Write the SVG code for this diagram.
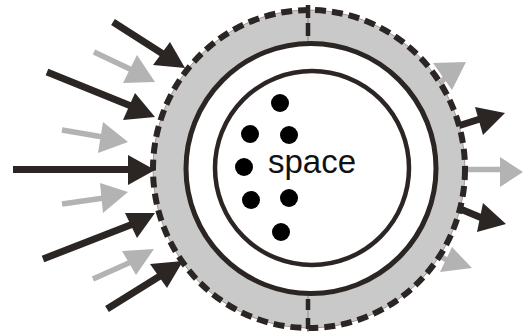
<svg xmlns="http://www.w3.org/2000/svg" width="523" height="332" viewBox="0 0 523 332">
  <style>
    .dk { fill: #2b2523; }
    .gy { fill: #b3b3b3; }
    .dks { stroke: #2b2523; stroke-width: 7; fill: none; }
    .gys { stroke: #b3b3b3; stroke-width: 5.5; fill: none; }
    .ring { stroke: #2b2523; }
    .dot { fill: #000; }
    .label { font-family: "Liberation Sans", Arial, sans-serif; font-size: 33px; fill: #111; }
  </style>
  <rect width="523" height="332" fill="#fff"/>

  <g id="outgoing-arrows">
    <g id="out-gray-1"><line class="gys" x1="430" y1="95" x2="445" y2="78"/><polygon class="gy" points="433,63 466,62 452,90"/></g>
    <g id="out-dark-1"><line class="dks" x1="458" y1="126" x2="480" y2="119"/><polygon class="dk" points="475,107 505,113 483,135"/></g>
    <g id="out-gray-2"><line class="gys" x1="460" y1="169.5" x2="502" y2="169.5"/><polygon class="gy" points="500,157 523,172 500,187"/></g>
    <g id="out-dark-2"><line class="dks" x1="458" y1="208" x2="482" y2="218"/><polygon class="dk" points="483,203 506,224 477,232"/></g>
    <g id="out-gray-3"><line class="gys" x1="430" y1="250" x2="450" y2="262"/><polygon class="gy" points="452,247 472,268 440,272"/></g>
  </g>

  <g id="cell">
    <ellipse cx="309" cy="169" rx="156" ry="159" fill="#c9c9c9"/>
    <ellipse cx="309" cy="169" rx="156" ry="159" fill="none" stroke="#9a9a9a" stroke-width="1"/>
    <ellipse cx="309" cy="169" rx="156" ry="159" fill="none" stroke="#2b2523" stroke-width="6" stroke-dasharray="11 6"/>
    <line x1="308" y1="5" x2="308" y2="43" stroke="#8a8a8a" stroke-width="1"/>
    <line x1="308" y1="5" x2="308" y2="37" stroke="#2b2523" stroke-width="4.5" stroke-dasharray="13 5"/>
    <line x1="308" y1="294" x2="308" y2="332" stroke="#8a8a8a" stroke-width="1"/>
    <line x1="308" y1="299" x2="308" y2="332" stroke="#2b2523" stroke-width="4.5" stroke-dasharray="11 8"/>
    <circle cx="311" cy="168.5" r="125" fill="#fff" class="ring" stroke-width="5"/>
    <circle cx="312" cy="168" r="97" fill="none" class="ring" stroke-width="4.5"/>
  </g>

  <g id="contents">
    <circle class="dot" cx="280" cy="103" r="9"/>
    <circle class="dot" cx="250" cy="134" r="9"/>
    <circle class="dot" cx="289" cy="135" r="9"/>
    <circle class="dot" cx="244" cy="167" r="9"/>
    <circle class="dot" cx="251" cy="200" r="9"/>
    <circle class="dot" cx="289" cy="198" r="9"/>
    <circle class="dot" cx="281" cy="232" r="9"/>
    <text class="label" x="268" y="173">space</text>
  </g>

  <g id="incoming-arrows">
    <g id="in-dark-1"><line class="dks" x1="113" y1="22" x2="163" y2="54"/><polygon class="dk" points="170,42 185,68 153,65"/></g>
    <g id="in-gray-1"><line class="gys" x1="94" y1="52" x2="132" y2="70"/><polygon class="gy" points="137,55 155,82 123,83"/></g>
    <g id="in-dark-2"><line class="dks" x1="47" y1="72" x2="131" y2="106"/><polygon class="dk" points="135,93 155,117 123,120"/></g>
    <g id="in-gray-2"><line class="gys" x1="62" y1="130" x2="103" y2="137"/><polygon class="gy" points="103,122 128,142 98,153"/></g>
    <g id="in-dark-3"><line class="dks" x1="13" y1="169.5" x2="132" y2="169.5"/><polygon class="dk" points="128,155 155,170 128,185"/></g>
    <g id="in-gray-3"><line class="gys" x1="62" y1="204" x2="104" y2="198"/><polygon class="gy" points="100,183 128,192 103,213"/></g>
    <g id="in-dark-4"><line class="dks" x1="43" y1="259" x2="133" y2="224"/><polygon class="dk" points="125,213 155,213 137,238"/></g>
    <g id="in-gray-4"><line class="gys" x1="93" y1="279" x2="131" y2="262"/><polygon class="gy" points="122,251 154,249 136,275"/></g>
    <g id="in-dark-5"><line class="dks" x1="107" y1="309" x2="160" y2="276"/><polygon class="dk" points="150,264 183,261 167,288"/></g>
  </g>
</svg>
